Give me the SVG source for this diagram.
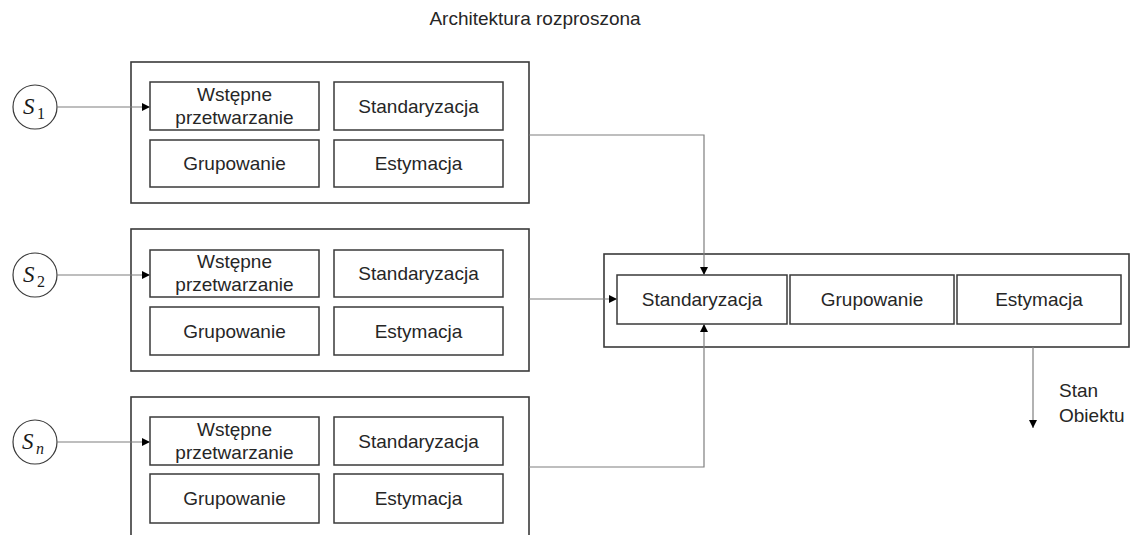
<svg xmlns="http://www.w3.org/2000/svg" width="1136" height="535" viewBox="0 0 1136 535">
<defs>
<marker id="arr" viewBox="0 0 10 10" refX="10" refY="5" markerWidth="8" markerHeight="8" markerUnits="userSpaceOnUse" orient="auto">
<path d="M0,0 L10,5 L0,10 z" fill="#000"/>
</marker>
<style>
.outer{fill:#fff;stroke:#3a3a3a;stroke-width:1.6}
.inner{fill:#fff;stroke:#3a3a3a;stroke-width:1.5}
.t{font-family:"Liberation Sans",Arial,sans-serif;font-size:19px;fill:#262626;text-anchor:middle}
.tl{font-family:"Liberation Sans",Arial,sans-serif;font-size:19px;fill:#262626}
.c{fill:none;stroke:#7f7f7f;stroke-width:1.2}
.s{fill:#fff;stroke:#3a3a3a;stroke-width:1.2}
.m{font-family:"Liberation Serif","DejaVu Serif",serif;font-style:italic;font-size:23px;fill:#1a1a1a}
.sub{font-family:"Liberation Serif","DejaVu Serif",serif;font-size:16px;fill:#1a1a1a}
</style>
</defs>
<rect width="1136" height="535" fill="#fff"/>
<text class="t" x="535" y="25" font-size="20">Architektura rozproszona</text>

<g id="s1"><circle class="s" cx="35" cy="107" r="22"/><text x="23" y="114" class="m">S</text><text x="37" y="119" class="sub">1</text></g>
<g id="s2"><circle class="s" cx="35" cy="275" r="22"/><text x="23" y="282" class="m">S</text><text x="37" y="287" class="sub">2</text></g>
<g id="sn"><circle class="s" cx="35" cy="442" r="22"/><text x="22" y="449" class="m">S</text><text x="36" y="454" class="sub" font-style="italic">n</text></g>

<g id="node1">
<rect class="outer" x="131" y="62" width="398" height="141"/>
<rect class="inner" x="150" y="82" width="169" height="48"/>
<text class="t" x="234.5" y="101">Wstępne</text>
<text class="t" x="234.5" y="124">przetwarzanie</text>
<rect class="inner" x="334" y="82" width="169" height="48"/>
<text class="t" x="418.5" y="113">Standaryzacja</text>
<rect class="inner" x="150" y="140" width="169" height="47"/>
<text class="t" x="234.5" y="170">Grupowanie</text>
<rect class="inner" x="334" y="140" width="169" height="47"/>
<text class="t" x="418.5" y="170">Estymacja</text>
</g>

<g id="node2">
<rect class="outer" x="131" y="229" width="398" height="142"/>
<rect class="inner" x="150" y="250" width="169" height="47"/>
<text class="t" x="234.5" y="268">Wstępne</text>
<text class="t" x="234.5" y="291">przetwarzanie</text>
<rect class="inner" x="334" y="250" width="169" height="47"/>
<text class="t" x="418.5" y="280">Standaryzacja</text>
<rect class="inner" x="150" y="307" width="169" height="48"/>
<text class="t" x="234.5" y="338">Grupowanie</text>
<rect class="inner" x="334" y="307" width="169" height="48"/>
<text class="t" x="418.5" y="338">Estymacja</text>
</g>

<g id="node3">
<rect class="outer" x="131" y="397" width="398" height="150"/>
<rect class="inner" x="150" y="417" width="169" height="48"/>
<text class="t" x="234.5" y="436">Wstępne</text>
<text class="t" x="234.5" y="459">przetwarzanie</text>
<rect class="inner" x="334" y="417" width="169" height="48"/>
<text class="t" x="418.5" y="448">Standaryzacja</text>
<rect class="inner" x="150" y="474" width="169" height="49"/>
<text class="t" x="234.5" y="505">Grupowanie</text>
<rect class="inner" x="334" y="474" width="169" height="49"/>
<text class="t" x="418.5" y="505">Estymacja</text>
</g>

<g id="central">
<rect class="outer" x="604" y="254" width="525" height="93"/>
<rect class="inner" x="617" y="275" width="170" height="49"/>
<text class="t" x="702" y="306">Standaryzacja</text>
<rect class="inner" x="790" y="275" width="164" height="49"/>
<text class="t" x="872" y="306">Grupowanie</text>
<rect class="inner" x="957" y="275" width="164" height="49"/>
<text class="t" x="1039" y="306">Estymacja</text>
</g>

<g id="output">
<text class="tl" x="1059" y="397">Stan</text>
<text class="tl" x="1059" y="422">Obiektu</text>
</g>

<g id="connectors">
<path class="c" d="M57,107 H150" marker-end="url(#arr)"/>
<path class="c" d="M57,275 H150" marker-end="url(#arr)"/>
<path class="c" d="M57,442 H150" marker-end="url(#arr)"/>
<path class="c" d="M529,135 H704 V275" marker-end="url(#arr)"/>
<path class="c" d="M529,299 H617" marker-end="url(#arr)"/>
<path class="c" d="M529,467 H704 V324" marker-end="url(#arr)"/>
<path class="c" d="M1033,347 V428" marker-end="url(#arr)"/>
</g>
</svg>
